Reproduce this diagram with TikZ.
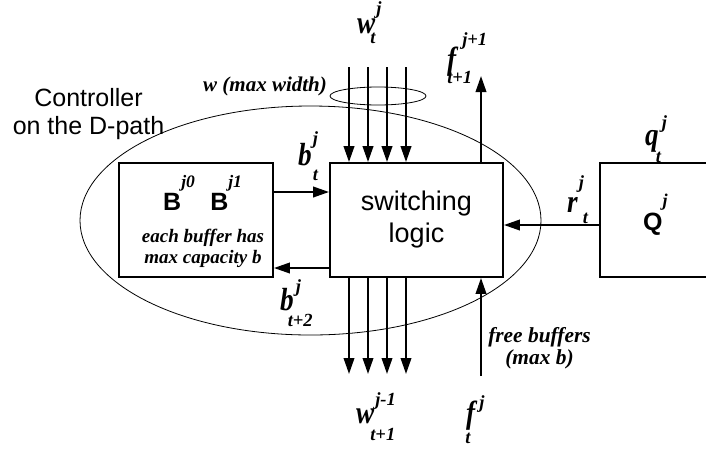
\documentclass[tikz,border=0pt]{standalone}
\usepackage{fontspec}
\setmainfont{Liberation Serif}
\setsansfont{Liberation Sans}
\usetikzlibrary{arrows.meta,shapes.geometric}
\newcommand\mainf{\fontsize{32}{32}\selectfont\bfseries\itshape}
\newcommand\scrf{\fontsize{18.5}{18.5}\selectfont\bfseries\itshape}
% main, sup, supdx, supraise, sub, subdx, subraise
\newcommand\mlab[7]{\scalebox{0.85}[1]{\mainf #1}\rlap{\hspace*{#3}\raisebox{#4}{\scrf #2}}\hspace*{#6}\raisebox{#7}{\scrf #5}}
\begin{document}
\begin{tikzpicture}[x=1pt,y=-1pt,
  box/.style={draw,line width=1.8pt,inner sep=0pt},
  arr/.style={line width=2.2pt,-{Triangle[length=16pt,width=10.5pt]}},
  thinl/.style={draw,line width=0.8pt,ellipse,inner sep=0pt},
  lab/.style={inner sep=0pt,anchor=base west},
  itl/.style={inner sep=0pt,align=center,font=\bfseries\itshape}]
\useasboundingbox (0,0) rectangle (706,448);
\clip (0,0) rectangle (706,448);
\fill[white] (0,0) rectangle (706,448);

% boxes
\node[box,minimum width=173pt,minimum height=114pt,align=center,
  font=\sffamily\fontsize{27}{32}\selectfont] (sw) at (416.5,220) {switching\\logic};
\node[box,minimum width=154pt,minimum height=114pt] (bbox) at (196,220) {};
\node[box,minimum width=170pt,minimum height=114pt,anchor=west] (qbox) at (599,220) {};

% ellipses
\node[thinl,minimum width=461pt,minimum height=229pt] (ctrl) at (310.5,220.5) {};
\node[thinl,minimum width=96pt,minimum height=18pt] (wbund) at (378,96) {};

% box contents
\node[lab] (bsym) at (163,210) {{\sffamily\bfseries\fontsize{25}{25}\selectfont B}\rlap{\raisebox{23pt}{\fontsize{17.5}{17.5}\selectfont\bfseries\itshape j0}}\hspace*{29pt}{\sffamily\bfseries\fontsize{25}{25}\selectfont B}\raisebox{23pt}{\fontsize{17.5}{17.5}\selectfont\bfseries\itshape j1}};
\node[itl,font=\bfseries\itshape\fontsize{19}{21}\selectfont] (bcap) at (203,248) {each buffer has\\max capacity b};
\node[lab] (qsym) at (643,230) {{\sffamily\bfseries\fontsize{25}{25}\selectfont Q}\raisebox{24pt}{\fontsize{18}{18}\selectfont\bfseries\itshape j}};

% texts
\node[inner sep=0pt,align=center,font=\sffamily\fontsize{25}{28}\selectfont] (ctrltxt) at (88.5,114.5) {Controller\\on the D-path};
\node[lab,font=\bfseries\itshape\fontsize{21}{21}\selectfont] (wmax) at (203,91) {w (max width)};
\node[itl,font=\bfseries\itshape\fontsize{21.4}{22}\selectfont] (free) at (539.5,348) {free buffers\\(max b)};

% math labels
\node[lab] (lwt) at (357,33) {\mlab{w}{j}{1pt}{19pt}{t}{-5pt}{-10pt}};
\node[lab] (lft) at (447,69) {\mlab{f}{j+1}{6pt}{24pt}{t+1}{-9pt}{-14pt}};
\node[lab] (lbt) at (298,165) {\mlab{b}{j}{1pt}{21pt}{t}{1pt}{-15pt}};
\node[lab] (lbt2) at (280,310) {\mlab{b}{j}{2pt}{18pt}{t+2}{-6pt}{-16pt}};
\node[lab] (lrt) at (567,212) {\mlab{r}{j}{1pt}{24pt}{t}{5pt}{-11pt}};
\node[lab] (lqt) at (645,145) {\mlab{q}{j}{3pt}{17pt}{t}{-3pt}{-17pt}};
\node[lab] (lfb) at (466,423) {\mlab{f}{j}{4pt}{15pt}{t}{-10pt}{-20pt}};
\node[lab] (lwb) at (356,423) {\mlab{w}{j-1}{1pt}{18pt}{t+1}{-4pt}{-17pt}};

% free ends
\coordinate (wi1) at (349,67);
\coordinate (wi2) at (368,67);
\coordinate (wi3) at (387,67);
\coordinate (wi4) at (406,67);
\coordinate (wo1) at (349,374);
\coordinate (wo2) at (368,374);
\coordinate (wo3) at (387,374);
\coordinate (wo4) at (406,374);
\coordinate (fo) at (481,76);
\coordinate (fi) at (481,376);

% connectors
\foreach \i in {1,2,3,4} {
  \draw[arr] (wi\i) -- (wi\i |- sw.north);
  \draw[arr] (wo\i |- sw.south) -- (wo\i);
}
\draw[arr] (fo |- sw.north) -- (fo);
\draw[arr] (fi) -- (fi |- sw.south);
\draw[arr] ([yshift=28pt]bbox.east) -- ([yshift=28pt]sw.west);
\draw[arr] ([yshift=-48pt]sw.west) -- ([yshift=-48pt]bbox.east);
\draw[arr] ([yshift=-5pt]qbox.west) -- ([yshift=-5pt]sw.east);
\end{tikzpicture}
\end{document}
